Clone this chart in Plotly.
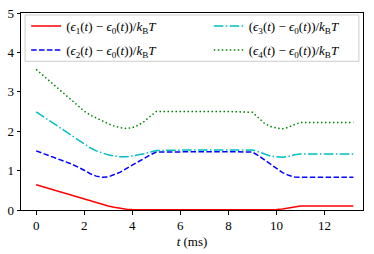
import plotly.graph_objects as go

# time grid (ms)
t = [0, 0.5, 1, 1.5, 2, 2.25, 2.5, 2.75, 3, 3.25, 3.5, 3.75, 4, 4.25, 4.5, 4.75, 5,
     6, 7, 8, 9, 9.25, 9.5, 9.75, 10, 10.25, 10.5, 10.75, 11, 12, 13.2]

e1 = [0.64, 0.55, 0.46, 0.37, 0.28, 0.23, 0.18, 0.14, 0.10, 0.07, 0.04, 0.02, 0.01, 0.006, 0.005, 0.005, 0.005,
      0.005, 0.005, 0.005, 0.005, 0.005, 0.006, 0.008, 0.012, 0.025, 0.05, 0.08, 0.10, 0.10, 0.10]
e2 = [1.50, 1.39, 1.27, 1.16, 1.01, 0.92, 0.86, 0.83, 0.84, 0.89, 0.96, 1.05, 1.14, 1.23, 1.32, 1.40, 1.47,
      1.48, 1.48, 1.48, 1.47, 1.38, 1.27, 1.16, 1.06, 0.95, 0.88, 0.84, 0.83, 0.83, 0.83]
e3 = [2.49, 2.29, 2.08, 1.88, 1.67, 1.58, 1.50, 1.45, 1.40, 1.37, 1.35, 1.35, 1.37, 1.40, 1.43, 1.47, 1.51,
      1.52, 1.52, 1.52, 1.52, 1.48, 1.42, 1.37, 1.35, 1.34, 1.36, 1.40, 1.42, 1.42, 1.42]
e4 = [3.57, 3.31, 3.04, 2.78, 2.51, 2.41, 2.33, 2.25, 2.19, 2.13, 2.09, 2.07, 2.09, 2.15, 2.25, 2.38, 2.50,
      2.50, 2.50, 2.50, 2.48, 2.34, 2.20, 2.12, 2.08, 2.06, 2.10, 2.17, 2.22, 2.22, 2.22]

x_ticks = [0, 2, 4, 6, 8, 10, 12]
y_ticks = [0, 1, 2, 3, 4, 5]

names = [
    "(<i>ϵ</i><sub>1</sub>(<i>t</i>) − <i>ϵ</i><sub>0</sub>(<i>t</i>))/<i>k</i><sub>B</sub><i>T</i>",
    "(<i>ϵ</i><sub>2</sub>(<i>t</i>) − <i>ϵ</i><sub>0</sub>(<i>t</i>))/<i>k</i><sub>B</sub><i>T</i>",
    "(<i>ϵ</i><sub>3</sub>(<i>t</i>) − <i>ϵ</i><sub>0</sub>(<i>t</i>))/<i>k</i><sub>B</sub><i>T</i>",
    "(<i>ϵ</i><sub>4</sub>(<i>t</i>) − <i>ϵ</i><sub>0</sub>(<i>t</i>))/<i>k</i><sub>B</sub><i>T</i>",
]
series = [e1, e2, e3, e4]
colors = ["#ff0000", "#0000ff", "#00bfbf", "#008000"]
dashes = ["solid", "5.5px,2.4px", "9.6px,2.4px,1.5px,2.4px", "1.5px,2.5px"]
legends = ["legend", "legend", "legend2", "legend2"]
groups = ["g1", "g2", "g3", "g4"]

font = "Liberation Serif, Times New Roman, serif"

fig = go.Figure()
for y, n, c, d, lg, g in zip(series, names, colors, dashes, legends, groups):
    fig.add_trace(go.Scatter(x=t, y=y, mode="lines", name=n, legend=lg, legendgroup=g,
                             line=dict(color=c, width=1.5, dash=d)))

axis_common = dict(showline=True, linecolor="black", linewidth=1, mirror=True,
                   ticks="outside", ticklen=3.5, tickwidth=1, tickcolor="black",
                   showgrid=False, zeroline=False, automargin=False,
                   tickfont=dict(family=font, size=13, color="black"))
fig.update_xaxes(range=[-0.63, 13.6], tickvals=x_ticks,
                 title=dict(text="<i>t</i> (ms)", font=dict(family=font, size=13, color="black"),
                            standoff=4),
                 **axis_common)
fig.update_yaxes(range=[0, 5], tickvals=y_ticks, **axis_common)

leg_common = dict(orientation="v", yanchor="top", xanchor="left", y=1.01,
                  borderwidth=0, bgcolor="rgba(0,0,0,0)", itemwidth=30,
                  tracegroupgap=4,
                  font=dict(family=font, size=13, color="black"))
fig.update_layout(
    width=374, height=254,
    margin=dict(l=21, r=11, t=13, b=44, autoexpand=False),
    plot_bgcolor="white", paper_bgcolor="white",
    font=dict(family=font, size=13, color="black"),
    legend=dict(x=0.015, **leg_common),
    legend2=dict(x=0.549, **leg_common),
    shapes=[dict(type="rect", xref="paper", yref="paper",
                 x0=0.012, x1=0.988, y0=0.755, y1=0.99,
                 line=dict(color="#cccccc", width=1),
                 fillcolor="rgba(255,255,255,0.8)", layer="below")],
)
fig.write_html("out.html", post_script="document.body.style.margin='0';",
               config={"displayModeBar": False})
